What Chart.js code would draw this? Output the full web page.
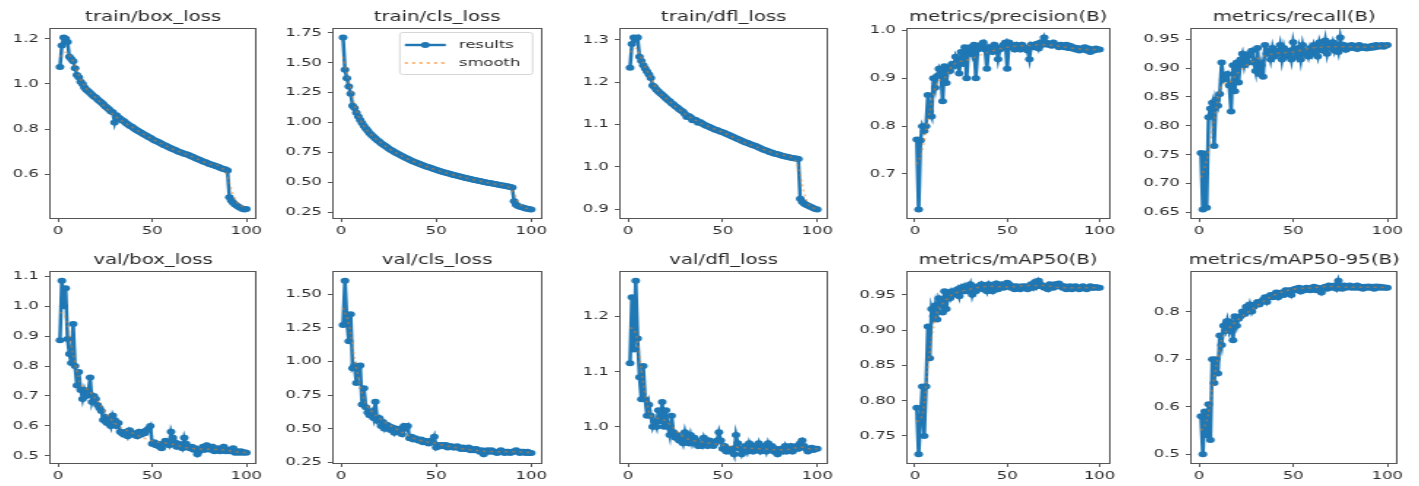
<!DOCTYPE html>
<html>
<head>
<meta charset="utf-8">
<script src="https://cdn.jsdelivr.net/npm/chart.js@4.4.1/dist/chart.umd.min.js"></script>
<style>
html,body{margin:0;padding:0;background:#fff;width:1419px;height:486px;overflow:hidden;}
.pane{position:absolute;transform-origin:0 0;filter:blur(0.4px);}
</style>
</head>
<body>
<script>
// ---------------- DATA ----------------
const epochs = [1,2,3,4,5,6,7,8,9,10,11,12,13,14,15,16,17,18,19,20,21,22,23,24,25,26,27,28,29,30,31,32,33,34,35,36,37,38,39,40,41,42,43,44,45,46,47,48,49,50,51,52,53,54,55,56,57,58,59,60,61,62,63,64,65,66,67,68,69,70,71,72,73,74,75,76,77,78,79,80,81,82,83,84,85,86,87,88,89,90,91,92,93,94,95,96,97,98,99,100];
const smoothEpochs = [1,4,8,12,16,20,30,40,50,60,70,80,87,90,93,96,100];

const titles = ["train/box_loss","train/cls_loss","train/dfl_loss","metrics/precision(B)","metrics/recall(B)",
                "val/box_loss","val/cls_loss","val/dfl_loss","metrics/mAP50(B)","metrics/mAP50-95(B)"];

const trainBox = [1.075,1.17,1.205,1.20,1.185,1.12,1.11,1.10,1.07,1.04,
1.03,1.01,1.00,0.985,0.975,0.968,0.96,0.952,0.945,0.94,
0.932,0.925,0.918,0.91,0.902,0.895,0.888,0.88,0.875,0.83,
0.862,0.852,0.846,0.84,0.835,0.828,0.822,0.816,0.812,0.806,
0.80,0.795,0.79,0.786,0.78,0.776,0.771,0.766,0.762,0.757,
0.752,0.748,0.745,0.74,0.736,0.731,0.728,0.724,0.72,0.716,
0.712,0.709,0.705,0.701,0.698,0.695,0.692,0.69,0.687,0.683,
0.68,0.676,0.672,0.669,0.665,0.662,0.658,0.655,0.652,0.648,
0.645,0.642,0.64,0.637,0.634,0.63,0.627,0.625,0.622,0.618,
0.50,0.485,0.475,0.468,0.462,0.457,0.452,0.448,0.446,0.448];

const trainCls = [1.71,1.44,1.37,1.30,1.24,1.14,1.12,1.08,1.05,1.02,
0.995,0.97,0.95,0.93,0.91,0.895,0.88,0.865,0.85,0.84,
0.826,0.815,0.805,0.795,0.782,0.772,0.762,0.752,0.745,0.735,
0.727,0.718,0.71,0.703,0.695,0.688,0.68,0.673,0.667,0.66,
0.654,0.648,0.642,0.636,0.63,0.625,0.62,0.614,0.608,0.603,
0.598,0.593,0.588,0.584,0.579,0.574,0.57,0.566,0.561,0.557,
0.553,0.549,0.545,0.541,0.537,0.533,0.53,0.526,0.522,0.519,
0.515,0.512,0.509,0.505,0.502,0.499,0.496,0.493,0.49,0.487,
0.484,0.481,0.478,0.475,0.472,0.469,0.466,0.463,0.46,0.455,
0.34,0.31,0.30,0.295,0.29,0.285,0.28,0.277,0.274,0.272];

const trainDfl = [1.234,1.29,1.305,1.30,1.305,1.26,1.25,1.24,1.232,1.225,
1.218,1.21,1.192,1.188,1.182,1.178,1.174,1.17,1.166,1.162,
1.158,1.155,1.15,1.147,1.143,1.14,1.136,1.133,1.13,1.125,
1.118,1.12,1.117,1.11,1.112,1.11,1.104,1.106,1.103,1.10,
1.098,1.096,1.094,1.092,1.09,1.088,1.087,1.085,1.083,1.082,
1.08,1.078,1.076,1.074,1.072,1.07,1.068,1.066,1.064,1.062,
1.06,1.058,1.057,1.055,1.053,1.051,1.05,1.048,1.046,1.044,
1.042,1.04,1.039,1.037,1.035,1.034,1.032,1.031,1.03,1.029,
1.027,1.026,1.025,1.024,1.023,1.022,1.021,1.02,1.02,1.019,
0.925,0.918,0.914,0.911,0.909,0.907,0.905,0.903,0.901,0.90];

const precision = [0.772,0.626,0.77,0.80,0.79,0.80,0.865,0.83,0.82,0.90,
0.88,0.905,0.92,0.91,0.852,0.925,0.89,0.92,0.915,0.93,
0.925,0.945,0.935,0.91,0.955,0.93,0.965,0.90,0.96,0.965,
0.95,0.97,0.90,0.96,0.965,0.97,0.975,0.96,0.92,0.965,
0.96,0.955,0.97,0.965,0.94,0.96,0.965,0.97,0.975,0.92,
0.975,0.97,0.965,0.96,0.97,0.965,0.96,0.97,0.965,0.962,
0.958,0.94,0.97,0.965,0.968,0.972,0.962,0.975,0.97,0.985,
0.975,0.97,0.972,0.968,0.975,0.97,0.968,0.965,0.97,0.968,
0.965,0.97,0.963,0.968,0.962,0.965,0.96,0.963,0.958,0.962,
0.96,0.965,0.958,0.962,0.955,0.96,0.958,0.962,0.96,0.96];

const recall = [0.753,0.655,0.752,0.658,0.815,0.83,0.84,0.765,0.845,0.835,
0.855,0.91,0.88,0.885,0.89,0.87,0.825,0.905,0.86,0.91,
0.875,0.915,0.925,0.905,0.92,0.91,0.925,0.93,0.91,0.895,
0.935,0.89,0.905,0.885,0.94,0.925,0.93,0.915,0.935,0.92,
0.93,0.925,0.94,0.915,0.935,0.92,0.925,0.93,0.915,0.945,
0.93,0.92,0.935,0.915,0.94,0.925,0.93,0.92,0.935,0.925,
0.94,0.93,0.92,0.945,0.935,0.93,0.948,0.925,0.94,0.935,
0.945,0.93,0.94,0.928,0.953,0.935,0.94,0.932,0.938,0.935,
0.94,0.935,0.938,0.933,0.94,0.936,0.935,0.938,0.934,0.937,
0.935,0.939,0.936,0.94,0.937,0.938,0.94,0.937,0.939,0.94];

const valBox = [0.886,1.085,1.0,1.06,0.89,0.84,0.81,0.94,0.80,0.735,
0.78,0.72,0.69,0.72,0.70,0.71,0.762,0.68,0.70,0.69,
0.67,0.66,0.65,0.62,0.63,0.61,0.62,0.60,0.635,0.62,
0.60,0.61,0.58,0.575,0.57,0.58,0.565,0.585,0.575,0.57,
0.575,0.565,0.58,0.57,0.58,0.575,0.585,0.59,0.60,0.54,
0.545,0.535,0.54,0.53,0.525,0.54,0.55,0.545,0.535,0.58,
0.56,0.545,0.53,0.54,0.535,0.525,0.56,0.54,0.53,0.525,
0.53,0.52,0.525,0.505,0.515,0.52,0.53,0.52,0.535,0.525,
0.52,0.53,0.515,0.52,0.525,0.515,0.52,0.53,0.515,0.52,
0.515,0.52,0.525,0.51,0.515,0.51,0.515,0.51,0.512,0.51];

const valCls = [1.27,1.60,1.30,1.15,1.35,0.95,0.97,0.84,0.96,0.97,
0.68,0.80,0.66,0.62,0.60,0.63,0.58,0.70,0.56,0.58,
0.52,0.55,0.50,0.53,0.52,0.49,0.51,0.47,0.50,0.50,
0.48,0.46,0.52,0.50,0.52,0.43,0.44,0.42,0.43,0.42,
0.41,0.42,0.40,0.41,0.40,0.39,0.41,0.40,0.44,0.36,
0.38,0.37,0.38,0.37,0.38,0.36,0.37,0.37,0.36,0.36,
0.37,0.36,0.35,0.36,0.35,0.35,0.36,0.34,0.35,0.34,
0.35,0.34,0.33,0.34,0.31,0.33,0.34,0.33,0.34,0.33,
0.33,0.32,0.33,0.34,0.33,0.32,0.33,0.33,0.32,0.33,
0.33,0.34,0.33,0.32,0.33,0.33,0.32,0.33,0.32,0.32];

const valDfl = [1.115,1.235,1.14,1.265,1.16,1.09,1.05,1.11,1.05,1.02,
1.04,1.02,1.0,1.01,1.0,1.03,1.01,1.045,1.0,1.03,
1.0,0.985,1.02,0.99,0.98,0.985,0.975,0.98,0.97,0.99,
0.975,0.97,0.985,0.97,0.98,0.975,0.965,0.97,0.965,0.98,
0.97,0.965,0.975,0.97,0.965,0.97,0.975,0.99,0.975,0.96,
0.965,0.955,0.96,0.955,0.96,0.95,0.985,0.97,0.96,0.95,
0.96,0.965,0.955,0.97,0.96,0.955,0.965,0.96,0.97,0.955,
0.96,0.965,0.955,0.97,0.96,0.965,0.955,0.96,0.95,0.955,
0.96,0.955,0.965,0.955,0.96,0.965,0.955,0.96,0.965,0.96,
0.97,0.975,0.965,0.96,0.955,0.96,0.962,0.958,0.96,0.96];

const map50 = [0.79,0.724,0.775,0.82,0.75,0.82,0.905,0.86,0.93,0.92,
0.935,0.915,0.945,0.94,0.925,0.955,0.93,0.95,0.945,0.955,
0.95,0.952,0.958,0.948,0.96,0.955,0.962,0.955,0.958,0.965,
0.95,0.96,0.955,0.962,0.96,0.965,0.958,0.962,0.955,0.965,
0.96,0.955,0.962,0.966,0.958,0.962,0.965,0.96,0.962,0.967,
0.965,0.96,0.962,0.958,0.962,0.96,0.958,0.962,0.96,0.962,
0.958,0.962,0.965,0.96,0.968,0.962,0.97,0.965,0.962,0.96,
0.962,0.958,0.965,0.962,0.96,0.965,0.962,0.966,0.963,0.96,
0.962,0.958,0.96,0.962,0.958,0.96,0.962,0.96,0.958,0.96,
0.962,0.96,0.958,0.96,0.962,0.96,0.96,0.961,0.96,0.96];

const map5095 = [0.58,0.50,0.59,0.54,0.605,0.53,0.70,0.65,0.70,0.67,
0.75,0.73,0.77,0.76,0.78,0.76,0.775,0.74,0.79,0.77,
0.785,0.79,0.80,0.795,0.81,0.80,0.815,0.80,0.81,0.815,
0.82,0.815,0.82,0.825,0.83,0.82,0.83,0.835,0.83,0.835,
0.84,0.83,0.838,0.84,0.835,0.845,0.84,0.845,0.835,0.845,
0.848,0.845,0.85,0.842,0.848,0.845,0.85,0.848,0.845,0.85,
0.852,0.845,0.85,0.848,0.84,0.85,0.852,0.848,0.855,0.85,
0.852,0.855,0.848,0.865,0.852,0.848,0.855,0.85,0.852,0.855,
0.85,0.853,0.85,0.855,0.85,0.852,0.848,0.852,0.85,0.853,
0.85,0.852,0.848,0.853,0.85,0.852,0.85,0.851,0.85,0.85];

// smooth (dotted) series, read at the smoothEpochs positions
const smTrainBox  = [1.12,1.14,1.10,1.02,0.97,0.94,0.86,0.806,0.757,0.716,0.683,0.648,0.63,0.59,0.51,0.47,0.455];
const smTrainCls  = [1.55,1.35,1.10,0.97,0.895,0.84,0.735,0.66,0.603,0.557,0.519,0.487,0.466,0.43,0.34,0.29,0.275];
const smTrainDfl  = [1.27,1.28,1.245,1.21,1.178,1.162,1.125,1.10,1.082,1.06,1.044,1.029,1.021,1.0,0.94,0.908,0.902];
const smPrecision = [0.72,0.75,0.83,0.89,0.90,0.925,0.94,0.955,0.965,0.968,0.97,0.966,0.962,0.961,0.96,0.96,0.96];
const smRecall    = [0.71,0.74,0.81,0.87,0.875,0.89,0.915,0.925,0.928,0.935,0.937,0.937,0.936,0.937,0.937,0.938,0.939];
const smValBox    = [0.98,0.96,0.84,0.74,0.72,0.69,0.61,0.575,0.55,0.54,0.525,0.522,0.52,0.518,0.515,0.512,0.511];
const smValCls    = [1.40,1.28,0.95,0.72,0.63,0.58,0.49,0.42,0.39,0.36,0.34,0.33,0.33,0.33,0.33,0.325,0.322];
const smValDfl    = [1.18,1.17,1.08,1.02,1.015,1.01,0.98,0.972,0.967,0.962,0.96,0.958,0.96,0.963,0.963,0.96,0.96];
const smMap50     = [0.77,0.78,0.87,0.925,0.94,0.95,0.958,0.962,0.961,0.963,0.963,0.96,0.96,0.96,0.96,0.96,0.96];
const smMap5095   = [0.55,0.57,0.66,0.74,0.765,0.78,0.81,0.835,0.847,0.85,0.853,0.851,0.851,0.851,0.851,0.851,0.85];

// tick values
const xTickVals = [0,50,100];
const yTicksTrainBox  = [0.6,0.8,1.0,1.2];
const yTicksTrainCls  = [0.25,0.50,0.75,1.00,1.25,1.50,1.75];
const yTicksTrainDfl  = [0.9,1.0,1.1,1.2,1.3];
const yTicksPrecision = [0.7,0.8,0.9,1.0];
const yTicksRecall    = [0.65,0.70,0.75,0.80,0.85,0.90,0.95];
const yTicksValBox    = [0.5,0.6,0.7,0.8,0.9,1.0,1.1];
const yTicksValCls    = [0.25,0.50,0.75,1.00,1.25,1.50];
const yTicksValDfl    = [1.0,1.1,1.2];
const yTicksMap50     = [0.75,0.80,0.85,0.90,0.95];
const yTicksMap5095   = [0.5,0.6,0.7,0.8];
const yDecimals = [1,2,1,1,2,1,2,1,2,1];

const results = [trainBox,trainCls,trainDfl,precision,recall,valBox,valCls,valDfl,map50,map5095];
const smooths = [smTrainBox,smTrainCls,smTrainDfl,smPrecision,smRecall,smValBox,smValCls,smValDfl,smMap50,smMap5095];
const yTicks  = [yTicksTrainBox,yTicksTrainCls,yTicksTrainDfl,yTicksPrecision,yTicksRecall,yTicksValBox,yTicksValCls,yTicksValDfl,yTicksMap50,yTicksMap5095];

// ---------------- LAYOUT / STYLE ----------------
const K = 1.46;          // horizontal stretch of the reference picture
const YW = 34;           // internal y-axis width
const TOPPAD = 26, XH = 24;
const plotLeft  = [51, 334, 621, 908, 1192];
const plotRight = [256, 541, 827, 1109, 1397];
const rowTop    = [29, 272];
const rowBottom = [218, 463];
const BLUE = '#1f77b4', ORANGE = 'rgba(255,127,14,0.5)';
const AXC = '#555', TXT = '#2a2a2a';
const FONT = '"DejaVu Sans", Verdana, sans-serif';

const framePlugin = {
  id:'frame',
  afterDraw(c){
    const a=c.chartArea, ctx=c.ctx;
    ctx.save();
    ctx.strokeStyle=AXC; ctx.lineWidth=1;
    ctx.strokeRect(Math.round(a.left)-0.5, Math.round(a.top)-0.5, Math.round(a.right)-Math.round(a.left)+1, Math.round(a.bottom)-Math.round(a.top)+1);
    ctx.restore();
  }
};
const titlePlugin = {
  id:'ttl',
  afterDraw(c,args,o){
    const a=c.chartArea, ctx=c.ctx;
    ctx.save();
    ctx.font='13.5px '+FONT; ctx.fillStyle=TXT; ctx.textAlign='center'; ctx.textBaseline='middle';
    ctx.fillText(o.text,(a.left+a.right)/2,a.top-12);
    ctx.restore();
  }
};
const legendPlugin = {
  id:'lgd',
  afterDraw(c,args,o){
    if(!o.show) return;
    const a=c.chartArea, ctx=c.ctx;
    const w=91, h=42, x=a.right-6-w, y=a.top+3;
    ctx.save();
    ctx.fillStyle='rgba(255,255,255,0.85)'; ctx.strokeStyle='#d6d6d6'; ctx.lineWidth=1;
    ctx.beginPath();
    if (ctx.roundRect) ctx.roundRect(x+0.5,y+0.5,w,h,2); else ctx.rect(x+0.5,y+0.5,w,h);
    ctx.fill(); ctx.stroke();
    const r1=y+13, r2=y+31;
    ctx.strokeStyle=BLUE; ctx.lineWidth=2.4; ctx.beginPath(); ctx.moveTo(x+4,r1); ctx.lineTo(x+32,r1); ctx.stroke();
    ctx.fillStyle=BLUE; ctx.beginPath(); ctx.arc(x+18,r1,3,0,Math.PI*2); ctx.fill();
    ctx.strokeStyle='rgba(255,127,14,0.6)'; ctx.lineWidth=2; ctx.setLineDash([2,3]); ctx.beginPath(); ctx.moveTo(x+4,r2); ctx.lineTo(x+32,r2); ctx.stroke();
    ctx.setLineDash([]);
    ctx.fillStyle=TXT; ctx.font='11.25px '+FONT; ctx.textAlign='left'; ctx.textBaseline='middle';
    ctx.fillText('results',x+41,r1); ctx.fillText('smooth',x+41,r2);
    ctx.restore();
  }
};

for (let i=0;i<10;i++){
  const col=i%5, row=Math.floor(i/5);
  const L=plotLeft[col], R=plotRight[col], T=rowTop[row], B=rowBottom[row];
  const plotW=(R-L)/K;
  const cw=Math.ceil(YW+plotW+9);
  const rightPad=cw-YW-plotW;
  const ch=TOPPAD+(B-T)+XH;
  const div=document.createElement('div');
  div.className='pane';
  div.style.left=(L-YW*K)+'px';
  div.style.top=(T-TOPPAD)+'px';
  div.style.transform='scaleX('+K+')';
  const cv=document.createElement('canvas');
  cv.width=cw; cv.height=ch;
  div.appendChild(cv);
  document.body.appendChild(div);

  const res=results[i], sm=smooths[i];
  const all=res.concat(sm);
  const mn=Math.min(...all), mx=Math.max(...all);
  const pad=(mx-mn)*0.05;
  const yt=yTicks[i], dec=yDecimals[i];

  new Chart(cv,{
    type:'line',
    data:{datasets:[
      {label:'smooth', data:smoothEpochs.map((e,j)=>({x:e,y:sm[j]})), borderColor:ORANGE, borderWidth:1.5, borderDash:[2,3],
       pointRadius:0, cubicInterpolationMode:'monotone', fill:false, order:0},
      {label:'results', data:epochs.map((e,j)=>({x:e,y:res[j]})), borderColor:BLUE, backgroundColor:BLUE, borderWidth:2.5,
       pointRadius:3, pointBorderWidth:0, pointBackgroundColor:BLUE, tension:0, fill:false, order:1}
    ]},
    options:{
      responsive:false, animation:false, devicePixelRatio:1,
      layout:{padding:{left:0,right:rightPad,top:TOPPAD,bottom:0}},
      plugins:{legend:{display:false}, tooltip:{enabled:false}, title:{display:false},
               ttl:{text:titles[i]}, lgd:{show:i===1}},
      scales:{
        x:{type:'linear', min:-3.95, max:104.95,
           afterBuildTicks:s=>{s.ticks=xTickVals.map(v=>({value:v}));},
           afterFit:s=>{s.height=XH;},
           ticks:{autoSkip:false,maxRotation:0,minRotation:0,padding:2,color:TXT,font:{family:FONT,size:11.25},callback:v=>String(v)},
           grid:{display:true,drawOnChartArea:false,drawTicks:true,tickLength:4,color:AXC,tickColor:AXC},
           border:{display:false}},
        y:{type:'linear', min:mn-pad, max:mx+pad,
           afterBuildTicks:s=>{s.ticks=yt.map(v=>({value:v}));},
           afterFit:s=>{s.width=YW;},
           ticks:{autoSkip:false,padding:4,color:TXT,font:{family:FONT,size:11.25},callback:v=>Number(v).toFixed(dec)},
           grid:{display:true,drawOnChartArea:false,drawTicks:true,tickLength:4,color:AXC,tickColor:AXC},
           border:{display:false}}
      }
    },
    plugins:[framePlugin,titlePlugin,legendPlugin]
  });
}
</script>
</body>
</html>
